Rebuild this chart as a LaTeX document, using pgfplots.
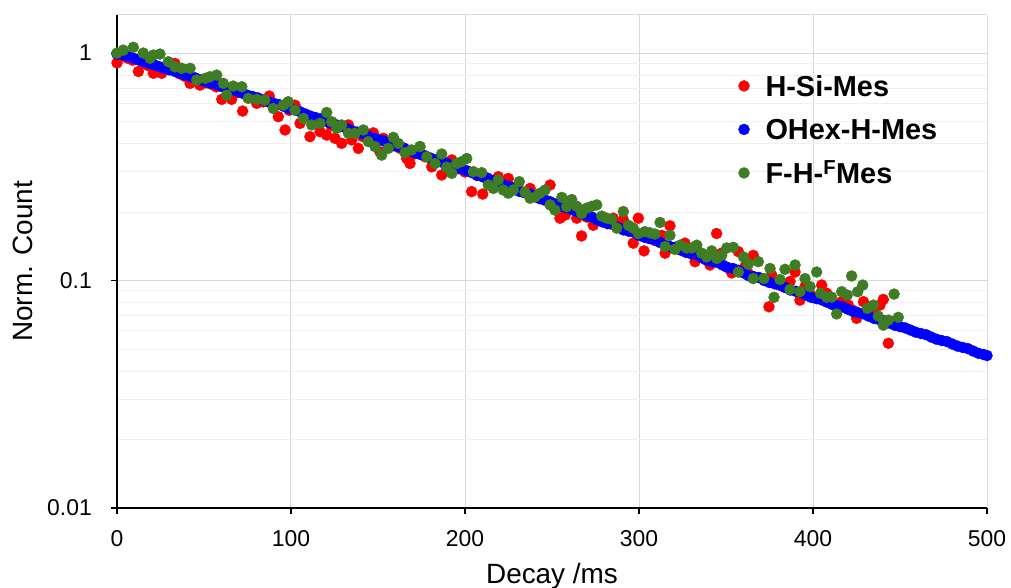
\documentclass[border=0pt]{standalone}
\usepackage{fontspec}
\setmainfont{Liberation Sans}
\usepackage{pgfplots}
\pgfplotsset{compat=1.18}
\definecolor{sred}{RGB}{255,0,0}
\definecolor{sblue}{RGB}{0,0,255}
\definecolor{sgreen}{RGB}{62,125,36}
\begin{document}
\begin{tikzpicture}
\begin{axis}[
  scale only axis, width=870bp, height=493bp,
  xmin=0, xmax=500, ymode=log, ymin=0.01, ymax=1.47,
  axis lines=left, axis line style={-, black, line width=2.7bp},
  xtick={0,100,200,300,400,500}, xticklabels={0,100,200,300,400,500},
  ytick={0.01,0.1,1}, yticklabels={0.01,0.1,1},
  minor ytick={0.02,0.03,0.04,0.05,0.06,0.07,0.08,0.09,0.2,0.3,0.4,0.5,0.6,0.7,0.8,0.9},
  xmajorgrids, ymajorgrids, yminorgrids,
  major grid style={black!15, line width=1bp},
  minor grid style={black!6, line width=1bp},
  tick align=outside, major tick length=6bp, minor tick length=0pt,
  tick style={black, line width=1.6bp},
  xticklabel style={font=\fontsize{23}{23}\selectfont, anchor=base, inner sep=0pt, yshift=-33bp},
  yticklabel style={font=\fontsize{23}{23}\selectfont, anchor=east, inner sep=0pt, xshift=-19bp},
  xlabel={Decay /ms}, ylabel={Norm. Count},
  label style={font=\fontsize{28}{28}\selectfont},
  x label style={at={(axis description cs:0.5,-0.15213)}, anchor=base},
  y label style={at={(axis description cs:-0.09655,0.5)}, anchor=base},
  clip=false,
  legend style={at={(0.7138,0.8774)}, anchor=north west, draw=none, fill=none,
    inner sep=0pt, outer sep=0pt, row sep=22.5bp,
    font=\bfseries\fontsize{29}{29}\selectfont,
    nodes={inner sep=0pt, text height=21bp, text depth=0bp},
    /tikz/every odd column/.append style={column sep=15.5bp}},
  legend cell align=left,
  legend image code/.code={\fill[#1] (6bp,0bp) circle (5.5bp); \path[draw=none, fill=none] (0bp,-10.5bp) rectangle (12bp,10.5bp);},
]
\addplot[only marks, mark=*, mark size=5.5bp, color=sred] coordinates {
(0,0.905) (3,0.97) (6,0.95) (9,0.93) (12.3,0.83) (15,0.90) (18,0.88) (20.9,0.815) (25.7,0.815) (29,0.85)
(33.3,0.90) (36,0.81) (39,0.79) (42,0.736) (45,0.77) (47.7,0.723) (51,0.74) (54,0.73) (57,0.71) (60.2,0.626)
(63,0.69) (65.9,0.626) (69,0.67) (72.2,0.556) (75,0.64) (78,0.635) (80.3,0.601) (84,0.61) (87.5,0.647) (90,0.59)
(92.7,0.525) (96.6,0.459) (99,0.56) (102.3,0.59) (105.2,0.491) (108,0.53) (110.9,0.429) (114,0.51) (116.7,0.451) (120.5,0.436)
(123,0.48) (125.3,0.422) (129.1,0.401) (133,0.483) (134.9,0.415) (138.7,0.381) (141,0.43) (144,0.44) (147.3,0.446) (151.1,0.368)
(153,0.422) (157.9,0.394) (160,0.39) (163,0.38) (166.5,0.344) (168.4,0.327) (171,0.36) (174.1,0.388) (177,0.35) (180.9,0.316)
(183,0.34) (186.6,0.291) (189,0.32) (192.4,0.339) (196,0.31) (200,0.30) (203.8,0.246) (207,0.29) (210.2,0.240) (213,0.275)
(216,0.27) (219.1,0.286) (222,0.265) (224.9,0.281) (227,0.255) (229.7,0.258) (233,0.245) (237.4,0.254) (240,0.235) (243.1,0.230)
(246,0.225) (248.9,0.263) (251,0.215) (254.6,0.188) (257.5,0.194) (261,0.205) (264.2,0.188) (267,0.157) (270,0.19) (273.7,0.175)
(276,0.185) (279,0.182) (282,0.178) (285.2,0.188) (288,0.172) (291,0.185) (294,0.165) (296.7,0.146) (299.6,0.188) (302.9,0.135)
(306,0.153) (309,0.15) (313,0.158) (315,0.132) (317.8,0.174) (321,0.14) (324,0.137) (326.4,0.146) (329,0.134) (332.2,0.121)
(335,0.127) (338,0.124) (340.8,0.117) (344.6,0.161) (347.5,0.132) (350,0.115) (353.3,0.108) (357.1,0.134) (360.9,0.115) (363,0.107)
(365.7,0.129) (369,0.103) (372,0.101) (374.7,0.0767) (376.2,0.106) (380,0.096) (383,0.094) (386.8,0.099) (389.7,0.109) (392.5,0.082)
(395.4,0.094) (399,0.086) (402,0.084) (405,0.0955) (407.9,0.0879) (411,0.080) (414,0.078) (416.5,0.0807) (420.3,0.078) (423,0.074)
(425.1,0.0682) (429,0.0807) (432,0.071) (434.7,0.0742) (438.5,0.078) (440.4,0.0826) (443.3,0.053) (446,0.065) (448,0.067)
};
\addlegendentry{H-Si-Mes}
\addplot[only marks, mark=*, mark size=5.5bp, color=sblue] coordinates {
(0,0.99) (3,0.983) (6,0.967) (9,0.952) (12,0.935) (15,0.917) (18,0.904) (21,0.890) (24,0.873) (27,0.857)
(30,0.844) (33,0.832) (36,0.816) (39,0.800) (42,0.789) (45,0.778) (48,0.763) (51,0.748) (54,0.737) (57,0.727)
(60,0.713) (63,0.699) (66,0.689) (69,0.680) (72,0.666) (75,0.653) (78,0.644) (81,0.635) (84,0.622) (87,0.610)
(90,0.602) (93,0.594) (96,0.582) (99,0.570) (102,0.562) (105,0.553) (108,0.541) (111,0.529) (114,0.521) (117,0.514)
(120,0.502) (123,0.491) (126,0.484) (129,0.477) (132,0.466) (135,0.456) (138,0.449) (141,0.443) (144,0.433) (147,0.423)
(150,0.417) (153,0.411) (156,0.402) (159,0.392) (162,0.387) (165,0.382) (168,0.373) (171,0.364) (174,0.359) (177,0.354)
(180,0.346) (183,0.338) (186,0.333) (189,0.329) (192,0.321) (195,0.313) (198,0.309) (201,0.304) (204,0.298) (207,0.290)
(210,0.286) (213,0.282) (216,0.275) (219,0.268) (222,0.264) (225,0.260) (228,0.254) (231,0.247) (234,0.244) (237,0.241)
(240,0.235) (243,0.229) (246,0.226) (249,0.222) (252,0.217) (255,0.212) (258,0.209) (261,0.206) (264,0.201) (267,0.196)
(270,0.193) (273,0.190) (276,0.185) (279,0.181) (282,0.178) (285,0.176) (288,0.171) (291,0.167) (294,0.165) (297,0.163)
(300,0.158) (303,0.155) (306,0.153) (309,0.151) (312,0.147) (315,0.143) (318,0.141) (321,0.140) (324,0.136) (327,0.133)
(330,0.131) (333,0.130) (336,0.126) (339,0.123) (342,0.121) (345,0.120) (348,0.117) (351,0.114) (354,0.113) (357,0.111)
(360,0.108) (363,0.105) (366,0.104) (369,0.103) (372,0.100) (375,0.0980) (378,0.0967) (381,0.0955) (384,0.0931) (387,0.0908)
(390,0.0897) (393,0.0886) (396,0.0863) (399,0.0843) (402,0.0832) (405,0.0822) (408,0.0803) (411,0.0785) (414,0.0775) (417,0.0766)
(420,0.0748) (423,0.0731) (426,0.0722) (429,0.0714) (432,0.0697) (435,0.0682) (438,0.0673) (441,0.0665) (444,0.0650) (447,0.0636)
(450,0.0627) (453,0.0619) (456,0.0606) (459,0.0593) (462,0.0585) (465,0.0578) (468,0.0564) (471,0.0552) (474,0.0545) (477,0.0539)
(480,0.0526) (483,0.0515) (486,0.0508) (489,0.0502) (492,0.0490) (495,0.0479) (498,0.0473) (500,0.0468)
};
\addlegendentry{OHex-H-Mes}
\addplot[only marks, mark=*, mark size=5.5bp, color=sgreen] coordinates {
(0,1.0) (3.6,1.03) (9.4,1.06) (15.1,1.0) (19,0.948) (20.9,0.98) (24.7,0.99) (29.5,0.916) (33.3,0.87) (37.2,0.857)
(42,0.857) (45.8,0.761) (50.6,0.774) (53.4,0.787) (57.3,0.80) (61.1,0.736) (63,0.653) (66.8,0.716) (71.7,0.711) (75.5,0.632)
(80.3,0.626) (85,0.621) (89.8,0.571) (95.6,0.59) (98.4,0.611) (102.3,0.561) (107.1,0.516) (111.9,0.483) (116.7,0.491) (120.5,0.548)
(123.4,0.499) (126.3,0.467) (129.1,0.483) (133,0.444) (136.8,0.444) (141.6,0.459) (144.4,0.408) (148.3,0.388) (152.1,0.356) (155.9,0.381)
(158.8,0.426) (161.7,0.401) (165.5,0.365) (169.3,0.375) (174.1,0.388) (178,0.35) (182.8,0.327) (186.6,0.36) (189.5,0.315) (192.4,0.296)
(195.2,0.327) (198.1,0.333) (201,0.344) (204.8,0.301) (209.6,0.298) (213.4,0.263) (216.3,0.254) (219.1,0.277) (222,0.25) (224.9,0.242)
(227.8,0.25) (231.2,0.272) (234.5,0.245) (237.4,0.23) (240.2,0.233) (243.1,0.242) (246,0.25) (248.9,0.215) (251.7,0.204) (255.6,0.232)
(258.4,0.211) (261.3,0.227) (264.2,0.212) (267,0.197) (269.9,0.208) (272.8,0.212) (275.7,0.215) (278.6,0.192) (281.4,0.188) (284.3,0.186)
(287.2,0.17) (291,0.201) (293.9,0.175) (296.7,0.17) (299.6,0.161) (303.4,0.164) (306.3,0.162) (309.2,0.16) (312.1,0.18) (315,0.141)
(317.8,0.158) (320.7,0.137) (323.6,0.143) (327.4,0.139) (330.3,0.139) (333.2,0.143) (336,0.132) (338.9,0.127) (341.8,0.135) (344.7,0.125)
(347.5,0.129) (350.4,0.139) (354.2,0.14) (357.1,0.109) (360,0.127) (362.8,0.118) (365.7,0.102) (368.6,0.121) (371.8,0.102) (375.3,0.113)
(377.6,0.0844) (381,0.101) (383.9,0.112) (386.8,0.0914) (389.7,0.117) (392.5,0.0893) (395.4,0.102) (398.3,0.094) (402.1,0.109) (404.4,0.0879)
(407.9,0.0844) (410.7,0.0845) (413.6,0.0713) (416.5,0.0893) (419.7,0.0863) (422.2,0.1047) (425.7,0.0893) (428.6,0.0955) (431.2,0.0755) (434.7,0.078)
(437.5,0.0698) (440.4,0.0637) (443.3,0.067) (446.6,0.0872) (449,0.0689)
};
\addlegendentry{F-H-\textsuperscript{F}Mes}
\draw[black!15, line width=1bp] (rel axis cs:0,1) -- (rel axis cs:1,1);
\end{axis}
\pgfresetboundingbox
\path (-117bp,-80bp) rectangle (894bp,508bp);
\end{tikzpicture}
\end{document}
